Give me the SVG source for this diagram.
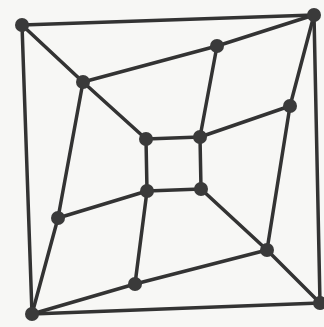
<svg xmlns="http://www.w3.org/2000/svg" width="324" height="327" viewBox="0 0 324 327">
<style>
.e{stroke:#333;stroke-width:3.5;stroke-linecap:round;fill:none}
.n{fill:#3a3a3a}
</style>
<rect width="324" height="327" fill="#f7f7f5"/>
<g id="connectors">
<line class="e" x1="22" y1="25" x2="314" y2="15"/>
<line class="e" x1="314" y1="15" x2="320" y2="303"/>
<line class="e" x1="320" y1="303" x2="32" y2="314"/>
<line class="e" x1="32" y1="314" x2="22" y2="25"/>
<line class="e" x1="22" y1="25" x2="83" y2="82"/>
<line class="e" x1="83" y1="82" x2="217" y2="46"/>
<line class="e" x1="83" y1="82" x2="146" y2="139"/>
<line class="e" x1="83" y1="82" x2="58" y2="218"/>
<line class="e" x1="314" y1="15" x2="217" y2="46"/>
<line class="e" x1="314" y1="15" x2="290" y2="106"/>
<line class="e" x1="217" y1="46" x2="200" y2="137"/>
<line class="e" x1="290" y1="106" x2="200" y2="137"/>
<line class="e" x1="290" y1="106" x2="267" y2="250"/>
<line class="e" x1="146" y1="139" x2="200" y2="137"/>
<line class="e" x1="200" y1="137" x2="201" y2="189"/>
<line class="e" x1="201" y1="189" x2="147" y2="191"/>
<line class="e" x1="147" y1="191" x2="146" y2="139"/>
<line class="e" x1="201" y1="189" x2="267" y2="250"/>
<line class="e" x1="267" y1="250" x2="320" y2="303"/>
<line class="e" x1="267" y1="250" x2="135" y2="284"/>
<line class="e" x1="147" y1="191" x2="58" y2="218"/>
<line class="e" x1="147" y1="191" x2="135" y2="284"/>
<line class="e" x1="32" y1="314" x2="58" y2="218"/>
<line class="e" x1="32" y1="314" x2="135" y2="284"/>
</g>
<g id="n-tl"><circle class="n" cx="22" cy="25" r="7"/></g>
<g id="n-tr"><circle class="n" cx="314" cy="15" r="7"/></g>
<g id="n-br"><circle class="n" cx="320" cy="303" r="7"/></g>
<g id="n-bl"><circle class="n" cx="32" cy="314" r="7"/></g>
<g id="n-a"><circle class="n" cx="83" cy="82" r="7"/></g>
<g id="n-b"><circle class="n" cx="217" cy="46" r="7"/></g>
<g id="n-c"><circle class="n" cx="290" cy="106" r="7"/></g>
<g id="n-d"><circle class="n" cx="267" cy="250" r="7"/></g>
<g id="n-e"><circle class="n" cx="135" cy="284" r="7"/></g>
<g id="n-f"><circle class="n" cx="58" cy="218" r="7"/></g>
<g id="n-itl"><circle class="n" cx="146" cy="139" r="7"/></g>
<g id="n-itr"><circle class="n" cx="200" cy="137" r="7"/></g>
<g id="n-ibr"><circle class="n" cx="201" cy="189" r="7"/></g>
<g id="n-ibl"><circle class="n" cx="147" cy="191" r="7"/></g>
</svg>
